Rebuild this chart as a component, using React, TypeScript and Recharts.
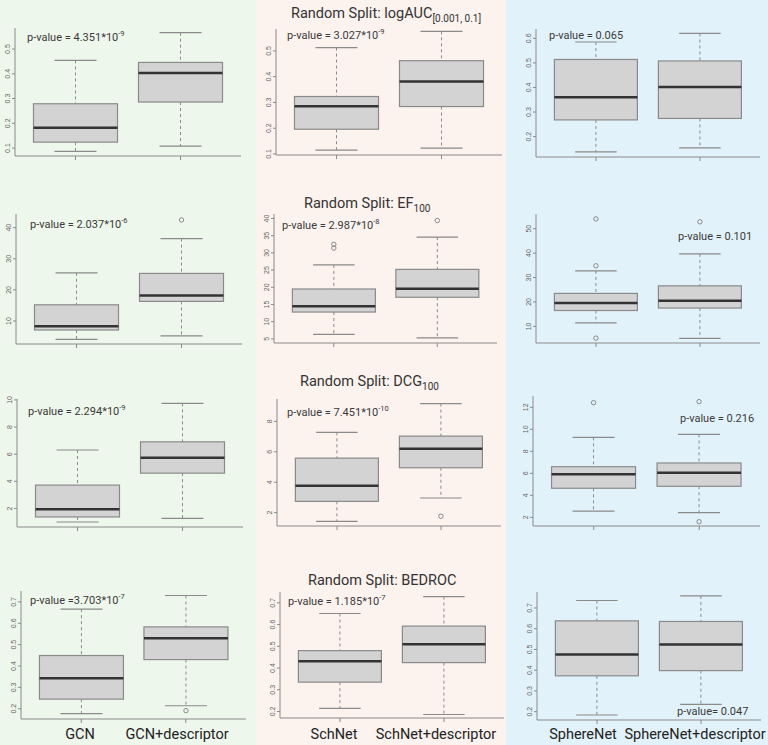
import React from 'react';
import { ComposedChart, Bar, XAxis, YAxis } from 'recharts';

// five-number summaries: [lower whisker, Q1, median, Q3, upper whisker]
const logAucGcn = [0.087, 0.124, 0.182, 0.279, 0.454];
const logAucGcnDesc = [0.108, 0.286, 0.403, 0.446, 0.566];
const logAucSchnet = [0.115, 0.196, 0.285, 0.323, 0.513];
const logAucSchnetDesc = [0.123, 0.284, 0.381, 0.462, 0.576];
const logAucSphere = [0.138, 0.268, 0.36, 0.514, 0.585];
const logAucSphereDesc = [0.154, 0.274, 0.402, 0.508, 0.62];

const efGcn = [4.1, 7.1, 8.3, 15.2, 25.5];
const efGcnDesc = [5.2, 16.3, 18.2, 25.3, 36.5];
const efSchnet = [6.3, 12.8, 14.5, 19.5, 26.5];
const efSchnetDesc = [5.3, 17.1, 19.6, 25.2, 34.6];
const efSphere = [11.4, 16.5, 19.6, 23.5, 32.7];
const efSphereDesc = [5.1, 17.5, 20.5, 26.6, 39.7];

const dcgGcn = [1.0, 1.37, 1.93, 3.72, 6.31];
const dcgGcnDesc = [1.26, 4.6, 5.73, 6.91, 9.75];
const dcgSchnet = [1.43, 2.74, 3.77, 5.58, 7.28];
const dcgSchnetDesc = [2.96, 4.95, 6.2, 7.03, 9.17];
const dcgSphere = [2.57, 4.64, 5.91, 6.6, 9.27];
const dcgSphereDesc = [2.42, 4.82, 6.06, 6.94, 9.54];

const bedrocGcn = [0.177, 0.245, 0.343, 0.449, 0.666];
const bedrocGcnDesc = [0.214, 0.43, 0.53, 0.583, 0.73];
const bedrocSchnet = [0.214, 0.335, 0.431, 0.48, 0.651];
const bedrocSchnetDesc = [0.186, 0.425, 0.51, 0.593, 0.729];
const bedrocSphere = [0.184, 0.373, 0.476, 0.638, 0.736];
const bedrocSphereDesc = [0.235, 0.398, 0.524, 0.635, 0.758];

// outliers
const efGcnDescOut = [42.5];
const efSchnetOut = [31.4, 32.5];
const efSchnetDescOut = [39.4];
const efSphereOut = [5.2, 34.8, 54.0];
const efSphereDescOut = [52.8];
const dcgSchnetDescOut = [1.76];
const dcgSphereOut = [12.42];
const dcgSphereDescOut = [1.6, 12.52];
const bedrocGcnDescOut = [0.191];

// y tick labels
const ticksLogAuc = [0.1, 0.2, 0.3, 0.4, 0.5];
const ticksLogAucSphere = [0.2, 0.3, 0.4, 0.5, 0.6];
const ticksEfGcn = [10, 20, 30, 40];
const ticksEfSchnet = [5, 10, 15, 20, 25, 30, 35, 40];
const ticksEfSphere = [10, 20, 30, 40, 50];
const ticksDcgGcn = [2, 4, 6, 8, 10];
const ticksDcgSchnet = [2, 4, 6, 8];
const ticksDcgSphere = [2, 4, 6, 8, 10, 12];
const ticksBedroc = [0.2, 0.3, 0.4, 0.5, 0.6, 0.7];

const models = [
  ['GCN', 'GCN+descriptor'],
  ['SchNet', 'SchNet+descriptor'],
  ['SphereNet', 'SphereNet+descriptor'],
];

const titles = [
  { main: 'Random Split: logAUC', sub: '[0.001, 0.1]', left: 291, base: 19 },
  { main: 'Random Split: EF', sub: '100', left: 304, base: 209 },
  { main: 'Random Split: DCG', sub: '100', left: 300, base: 387 },
  { main: 'Random Split: BEDROC', sub: '', left: 308, base: 586 },
];

const none: number[] = [];

// panel layout (px) + stats
const panels = [
  { col: 0, left: 15, top: 28, w: 226, h: 128, domain: [0.068, 0.585], ticks: ticksLogAuc, a: logAucGcn, b: logAucGcnDesc, aOut: none, bOut: none },
  { col: 1, left: 276, top: 29, w: 226, h: 126, domain: [0.096, 0.585], ticks: ticksLogAuc, a: logAucSchnet, b: logAucSchnetDesc, aOut: none, bOut: none },
  { col: 2, left: 536, top: 29, w: 224, h: 128, domain: [0.117, 0.638], ticks: ticksLogAucSphere, a: logAucSphere, b: logAucSphereDesc, aOut: none, bOut: none },

  { col: 0, left: 16, top: 214, w: 226, h: 130, domain: [2.6, 44.4], ticks: ticksEfGcn, a: efGcn, b: efGcnDesc, aOut: none, bOut: efGcnDescOut },
  { col: 1, left: 274, top: 214, w: 223, h: 129, domain: [3.8, 41.3], ticks: ticksEfSchnet, a: efSchnet, b: efSchnetDesc, aOut: efSchnetOut, bOut: efSchnetDescOut },
  { col: 2, left: 536, top: 214, w: 224, h: 129, domain: [3.2, 56.0], ticks: ticksEfSphere, a: efSphere, b: efSphereDesc, aOut: efSphereOut, bOut: efSphereDescOut },

  { col: 0, left: 17, top: 399, w: 226, h: 128, domain: [0.63, 10.07], ticks: ticksDcgGcn, a: dcgGcn, b: dcgGcnDesc, aOut: none, bOut: none },
  { col: 1, left: 277, top: 399, w: 224, h: 127, domain: [1.12, 9.47], ticks: ticksDcgSchnet, a: dcgSchnet, b: dcgSchnetDesc, aOut: none, bOut: dcgSchnetDescOut },
  { col: 2, left: 533, top: 396, w: 227, h: 130, domain: [1.21, 13.03], ticks: ticksDcgSphere, a: dcgSphere, b: dcgSphereDesc, aOut: dcgSphereOut, bOut: dcgSphereDescOut },

  { col: 0, left: 21, top: 591, w: 225, h: 128, domain: [0.152, 0.751], ticks: ticksBedroc, a: bedrocGcn, b: bedrocGcnDesc, aOut: none, bOut: bedrocGcnDescOut },
  { col: 1, left: 280, top: 592, w: 224, h: 126, domain: [0.17, 0.75], ticks: ticksBedroc, a: bedrocSchnet, b: bedrocSchnetDesc, aOut: none, bOut: none },
  { col: 2, left: 537, top: 592, w: 224, h: 128, domain: [0.16, 0.777], ticks: ticksBedroc, a: bedrocSphere, b: bedrocSphereDesc, aOut: none, bOut: none },
];

const pValues = [
  { pre: 'p-value = 4.351*10', exp: '-9', left: 27, cy: 38 },
  { pre: 'p-value = 3.027*10', exp: '-9', left: 287, cy: 36 },
  { pre: 'p-value = 0.065', exp: '', left: 549, cy: 36 },
  { pre: 'p-value = 2.037*10', exp: '-6', left: 30, cy: 225 },
  { pre: 'p-value = 2.987*10', exp: '-8', left: 282, cy: 226 },
  { pre: 'p-value = 0.101', exp: '', left: 678, cy: 237 },
  { pre: 'p-value = 2.294*10', exp: '-9', left: 28, cy: 412 },
  { pre: 'p-value = 7.451*10', exp: '-10', left: 287, cy: 413 },
  { pre: 'p-value = 0.216', exp: '', left: 680, cy: 419 },
  { pre: 'p-value =3.703*10', exp: '-7', left: 30, cy: 601 },
  { pre: 'p-value = 1.185*10', exp: '-7', left: 288, cy: 602 },
  { pre: 'p-value= 0.047', exp: '', left: 677, cy: 712 },
];

const xLabelCenters = [80, 177, 334, 436, 583, 695];

const GREY = '#8a8a8a';
const TOP_PAD = 6;

const boxRange = (d: any) => [Math.min(d.stats[0], ...d.out), Math.max(d.stats[4], ...d.out)];

const BoxShape = (props: any) => {
  const { x, y, width, height, payload } = props;
  const [lo, hi] = boxRange(payload);
  const py = (v: number) => y + (height * (hi - v)) / (hi - lo);
  const [w0, q1, med, q3, w1] = payload.stats;
  const cx = x + width / 2;
  const capL = x + width / 4;
  const capR = x + (3 * width) / 4;
  return (
    <g>
      <line x1={cx} x2={cx} y1={py(w1)} y2={py(q3)} stroke={GREY} strokeDasharray="3 3" />
      <line x1={cx} x2={cx} y1={py(q1)} y2={py(w0)} stroke={GREY} strokeDasharray="3 3" />
      <line x1={capL} x2={capR} y1={py(w1)} y2={py(w1)} stroke={GREY} strokeWidth={1.2} />
      <line x1={capL} x2={capR} y1={py(w0)} y2={py(w0)} stroke={GREY} strokeWidth={1.2} />
      <rect x={x} y={py(q3)} width={width} height={py(q1) - py(q3)} fill="#d3d3d3" stroke={GREY} strokeWidth={1.2} />
      <line x1={x} x2={x + width} y1={py(med)} y2={py(med)} stroke="#333" strokeWidth={2.5} />
      {payload.out.map((v: number, i: number) => (
        <circle key={i} cx={cx} cy={py(v)} r={2.2} fill="none" stroke={GREY} />
      ))}
    </g>
  );
};

const EmptyTick = () => <g />;

const YTick = (props: any) => {
  const { x, y, payload } = props;
  return (
    <text x={x} y={y} transform={`rotate(-90 ${x} ${y})`} textAnchor="middle" fontSize={7} fill="#666" fontFamily="Liberation Sans, sans-serif">
      {payload.value}
    </text>
  );
};

function BoxPanel({ p }: { p: any }) {
  const names = models[p.col];
  const data = [
    { name: names[0], stats: p.a, out: p.aOut },
    { name: names[1], stats: p.b, out: p.bOut },
  ];
  const pad = Math.round(p.w * 0.037);
  return (
    <div style={{ position: 'absolute', left: p.left - 20, top: p.top - TOP_PAD }}>
      <ComposedChart width={p.w + 21} height={p.h + 6 + TOP_PAD} data={data} margin={{ top: TOP_PAD, right: 1, bottom: 0, left: 0 }} barCategoryGap="10%">
        <XAxis dataKey="name" height={6} padding={{ left: pad, right: pad }} tick={EmptyTick} tickSize={4} stroke={GREY} interval={0} />
        <XAxis xAxisId="top" orientation="top" dataKey="name" height={0} tick={false} tickLine={false} stroke={GREY} />
        <YAxis width={20} type="number" domain={p.domain} ticks={p.ticks} allowDataOverflow tickSize={3} tick={YTick} stroke={GREY} interval={0} />
        <YAxis yAxisId="right" orientation="right" width={0} type="number" domain={[0, 1]} tick={false} tickLine={false} stroke={GREY} />
        <Bar dataKey={boxRange} shape={BoxShape} isAnimationActive={false} />
      </ComposedChart>
    </div>
  );
}

export default function App() {
  const font = 'Roboto, sans-serif';
  return (
    <div style={{ position: 'absolute', left: 0, top: 0, width: 768, height: 745, overflow: 'hidden', fontFamily: font }}>
      <div style={{ position: 'absolute', left: 0, top: 0, width: 256, height: 745, background: '#eef7ec' }} />
      <div style={{ position: 'absolute', left: 256, top: 0, width: 250, height: 745, background: '#fcf2ee' }} />
      <div style={{ position: 'absolute', left: 506, top: 0, width: 262, height: 745, background: '#e2f2fb' }} />

      {panels.map((p, i) => (
        <BoxPanel key={i} p={p} />
      ))}

      {titles.map((t, i) => (
        <div key={i} style={{ position: 'absolute', left: t.left, top: t.base - 12, fontSize: 14.5, lineHeight: '14.5px', color: '#333', whiteSpace: 'nowrap' }}>
          {t.main}
          {t.sub && <sub style={{ fontSize: 10, lineHeight: 0 }}>{t.sub}</sub>}
        </div>
      ))}

      {pValues.map((t, i) => (
        <div key={i} style={{ position: 'absolute', left: t.left, top: t.cy - 7, fontSize: 11, lineHeight: '14px', color: '#3a3a3a', whiteSpace: 'nowrap' }}>
          {t.pre}
          {t.exp && <sup style={{ fontSize: 7.5, lineHeight: 0 }}>{t.exp}</sup>}
        </div>
      ))}

      {models.flat().map((m, i) => (
        <div key={m} style={{ position: 'absolute', left: xLabelCenters[i] - 80, width: 160, top: 727, textAlign: 'center', fontSize: 14.5, lineHeight: '16px', color: '#222', whiteSpace: 'nowrap' }}>
          {m}
        </div>
      ))}
    </div>
  );
}
